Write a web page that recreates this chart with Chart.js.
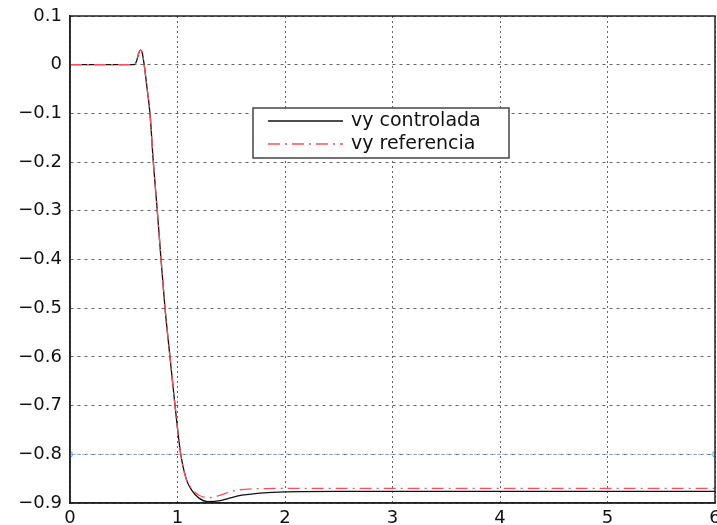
<!DOCTYPE html>
<html lang="es">
<head>
  <meta charset="UTF-8">
  <title>vy controlada / vy referencia</title>
  <script src="https://cdn.jsdelivr.net/npm/chart.js@4.4.0/dist/chart.umd.min.js"></script>
  <style>
    html, body { margin: 0; padding: 0; background: #fff; }
    #wrap { width: 717px; height: 525px; }
  </style>
</head>
<body>
  <div id="wrap"><canvas id="vyChart" width="717" height="525"></canvas></div>

  <script>
    // values
    const tControlada = [0, 0.6, 0.62, 0.64, 0.655, 0.67, 0.69, 0.715, 0.744, 0.775, 0.812, 0.847, 0.884, 0.93, 0.977, 1.03, 1.08, 1.13, 1.2, 1.28, 1.4, 1.5, 1.6, 1.8, 2, 2.5, 3, 6];
    const vyControlada = [0, 0, 0.008, 0.024, 0.03, 0.026, 0, -0.045, -0.1, -0.2, -0.3, -0.4, -0.5, -0.6, -0.7, -0.8, -0.85, -0.873, -0.89, -0.897, -0.895, -0.889, -0.884, -0.879, -0.877, -0.876, -0.876, -0.876];

    const tReferencia = [0, 0.6, 0.62, 0.64, 0.655, 0.67, 0.69, 0.715, 0.744, 0.775, 0.812, 0.847, 0.884, 0.93, 0.977, 1.03, 1.08, 1.13, 1.2, 1.3, 1.4, 1.52, 1.7, 2, 3, 6];
    const vyReferencia = [0, 0, 0.008, 0.024, 0.03, 0.026, 0, -0.045, -0.1, -0.2, -0.3, -0.4, -0.5, -0.6, -0.7, -0.8, -0.85, -0.87, -0.884, -0.889, -0.884, -0.875, -0.871, -0.87, -0.87, -0.87];

    const tLimite = [0, 6];
    const vyLimite = [-0.8, -0.8];

    const xTicks = [0, 1, 2, 3, 4, 5, 6];
    const yTicks = [0.1, 0, -0.1, -0.2, -0.3, -0.4, -0.5, -0.6, -0.7, -0.8, -0.9];

    const toPoints = (xs, ys) => xs.map((x, i) => ({ x: x, y: ys[i] }));
    const fmt = v => String(Math.round(v * 10) / 10).replace('-', '\u2212');

    // box round the plot + legend inside it, matlab style
    const matlabBox = {
      id: 'matlabBox',
      afterDraw(chart) {
        const ctx = chart.ctx;
        const a = chart.chartArea;
        ctx.save();
        ctx.strokeStyle = '#222';
        ctx.lineWidth = 1.5;
        ctx.strokeRect(a.left, a.top, a.right - a.left, a.bottom - a.top);

        // legend
        const lx = a.left + 183, ly = a.top + 92, lw = 256, lh = 50;
        ctx.fillStyle = '#fff';
        ctx.fillRect(lx, ly, lw, lh);
        ctx.strokeStyle = '#444';
        ctx.lineWidth = 1.5;
        ctx.strokeRect(lx, ly, lw, lh);

        ctx.font = '19px "DejaVu Sans"';
        ctx.textBaseline = 'middle';
        ctx.fillStyle = '#111';
        [0, 1].forEach(i => {
          const ds = chart.data.datasets[i];
          const y = ly + 13 + i * 23;
          ctx.strokeStyle = ds.borderColor;
          ctx.lineWidth = ds.borderWidth;
          ctx.setLineDash(ds.borderDash || []);
          ctx.beginPath();
          ctx.moveTo(lx + 15, y);
          ctx.lineTo(lx + 90, y);
          ctx.stroke();
          ctx.setLineDash([]);
          ctx.fillText(ds.label, lx + 98, y);
        });
        ctx.restore();
      }
    };

    const ctx = document.getElementById('vyChart').getContext('2d');
    const vyChart = new Chart(ctx, {
      type: 'line',
      data: {
        datasets: [{
          label: 'vy controlada',
          data: toPoints(tControlada, vyControlada),
          borderColor: '#111',
          borderWidth: 1.3,
          pointRadius: 0,
          cubicInterpolationMode: 'monotone',
          order: 1
        }, {
          label: 'vy referencia',
          data: toPoints(tReferencia, vyReferencia),
          borderColor: '#ff4d5e',
          borderWidth: 1.3,
          borderDash: [12, 5, 2, 5],
          pointRadius: 0,
          cubicInterpolationMode: 'monotone',
          order: 0
        }, {
          label: 'limite',
          data: toPoints(tLimite, vyLimite),
          borderColor: '#8ab8ee',
          borderWidth: 1,
          borderDash: [2, 2],
          pointRadius: 3,
          pointStyle: 'rect',
          pointBackgroundColor: 'rgba(0,0,0,0)',
          pointBorderColor: '#6aa8ee',
          order: 2
        }]
      },
      options: {
        responsive: false,
        animation: false,
        layout: { autoPadding: false, padding: { top: 16, right: 2, left: 0, bottom: 0 } },
        plugins: {
          legend: { display: false },
          tooltip: { enabled: false }
        },
        scales: {
          x: {
            type: 'linear',
            min: 0,
            max: 6,
            afterBuildTicks: s => { s.ticks = xTicks.map(v => ({ value: v })); },
            afterFit: s => { s.height = 22; s.paddingRight = 0; s.paddingLeft = 0; },
            ticks: {
              callback: fmt,
              color: '#111',
              padding: 5,
              maxRotation: 0,
              font: { family: 'DejaVu Sans', size: 18 }
            },
            grid: { color: '#666', drawTicks: false },
            border: { color: '#222', width: 1.5, dash: [2, 3] }
          },
          y: {
            type: 'linear',
            min: -0.9,
            max: 0.1,
            afterBuildTicks: s => { s.ticks = yTicks.map(v => ({ value: v })); },
            afterFit: s => { s.width = 70; s.paddingTop = 0; s.paddingBottom = 0; },
            ticks: {
              callback: fmt,
              color: '#111',
              padding: 8,
              font: { family: 'DejaVu Sans', size: 18 }
            },
            grid: { color: '#666', drawTicks: false },
            border: { color: '#222', width: 1.5, dash: [3, 4] }
          }
        }
      },
      plugins: [matlabBox]
    });
  </script>
</body>
</html>
